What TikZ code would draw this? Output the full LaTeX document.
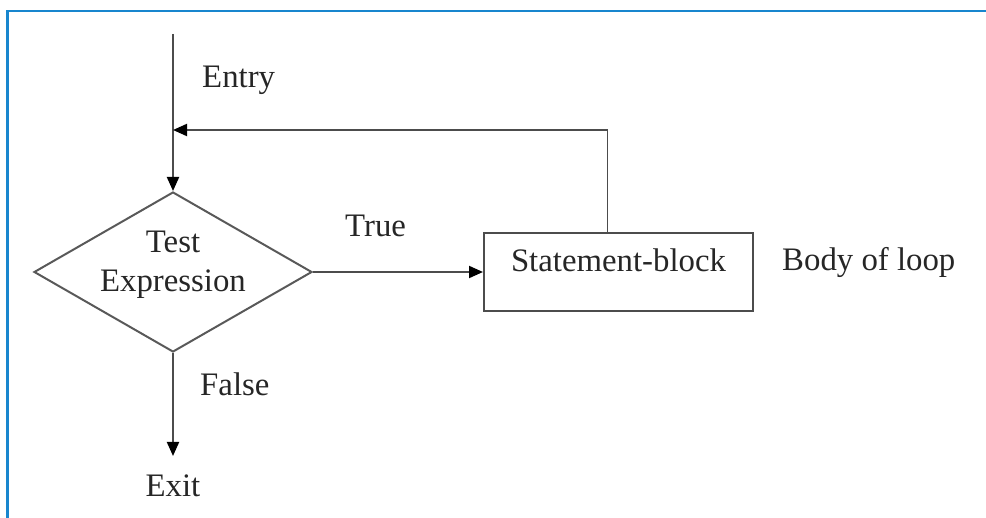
\documentclass[tikz,border=0pt]{standalone}
\usepackage{fontspec}
\setmainfont{Liberation Serif}
\usepackage{xcolor}
\usetikzlibrary{arrows.meta,positioning,shapes.geometric,calc}
\definecolor{frameblue}{RGB}{24,134,206}

\begin{document}
\begin{tikzpicture}[
  >={Triangle[length=0.42cm, width=0.36cm, color=black]},
  node distance=1.0cm and 1.0cm,
  every node/.style={font=\fontsize{28}{34}\selectfont, text=black!85},
  decision/.style={draw=black!65, line width=1.7pt, shape=diamond, aspect=1.74,
    minimum width=8.34cm, minimum height=4.8cm, inner sep=0pt, align=center,
    text height=1.3cm, text depth=0.1cm},
  block/.style={draw=black!70, line width=1.7pt, minimum width=8.07cm,
    minimum height=2.34cm, inner sep=0pt, text depth=0.7cm},
  lbl/.style={inner sep=0pt},
  arr/.style={->, line width=1.7pt, draw=black!70},
  frame/.style={draw=frameblue, line width=2.3pt},
]
\useasboundingbox (0,0) rectangle (29.58,-15.54);

% Frame
\draw[frame] (0.22,-15.54) -- (0.22,-0.33) -- (29.58,-0.33);

% Decision and loop body
\node[decision] (test) at (5.19,-8.16) {Test\\Expression};
\node[block, right=5.1cm of test] (body) {Statement-block};

% Entry and exit
\coordinate[above=4.71cm of test] (entry);
\node[lbl, below=3.66cm of test] (exit) {Exit};

% Loop back
\coordinate (loopstart) at ([xshift=-0.33cm]body.north);
\coordinate[above=3.06cm of loopstart] (loopcorner);

% Labels
\node[lbl, anchor=base west] (entrylbl) at ([xshift=0.87cm, yshift=3.12cm]test.north) {Entry};
\node[lbl, anchor=base west] (truelbl) at ([xshift=0.96cm, yshift=1.05cm]test.east) {True};
\node[lbl, anchor=base west] (falselbl) at ([xshift=0.81cm, yshift=-1.29cm]test.south) {False};
\node[lbl, anchor=base west] (bodylbl) at ([xshift=0.84cm, yshift=0.03cm]body.east) {Body of loop};

% Arrows
\draw[arr] (entry) -- (test);
\draw[arr] (test) -- (body);
\draw[arr] (loopstart) -- (loopcorner) -- (loopcorner -| entry);
\draw[arr, shorten >=0.57cm] (test) -- (exit);
\end{tikzpicture}
\end{document}
